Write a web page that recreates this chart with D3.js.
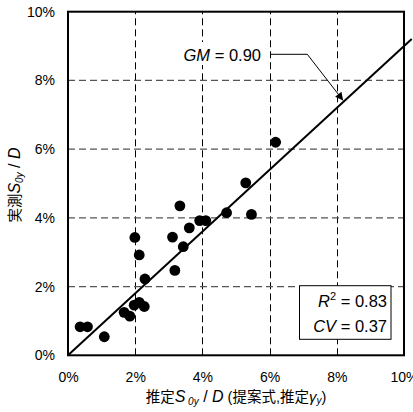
<!DOCTYPE html>
<html>
<head>
<meta charset="utf-8">
<script src="https://cdn.jsdelivr.net/npm/d3@7"></script>
<style>
  html, body { margin: 0; padding: 0; background: #fff; }
  svg { display: block; font-family: "Liberation Sans", Arial, "Noto Sans CJK JP", sans-serif; }
</style>
</head>
<body>
<svg id="chart" width="413" height="412"></svg>
<script>
// Estimated vs measured S0y / D (as fractions of D)
const estimated = [0.0036, 0.0058, 0.0108, 0.0167, 0.0184, 0.0197, 0.0212, 0.0227,
                   0.0199, 0.0212, 0.0229, 0.0311, 0.0318, 0.0333, 0.0343, 0.0361,
                   0.0392, 0.0410, 0.0472, 0.0529, 0.0546, 0.0618];
const measured  = [0.0083, 0.0083, 0.0054, 0.0125, 0.0114, 0.0146, 0.0154, 0.0142,
                   0.0343, 0.0292, 0.0222, 0.0344, 0.0247, 0.0435, 0.0316, 0.0371,
                   0.0392, 0.0392, 0.0415, 0.0502, 0.0410, 0.0620];
const axisTicks = [0, 0.02, 0.04, 0.06, 0.08, 0.10];
const gridTicks = [0.02, 0.04, 0.06, 0.08];
const gmValue = 0.90;            // slope of the fitted line y = GM * x
const fitRange = [0, 0.1023];    // x extent of the fitted line
const r2Value = 0.83;
const cvValue = 0.37;

const svg = d3.select("#chart");
const x = d3.scaleLinear().domain([0, 0.10]).range([68, 404]);
const y = d3.scaleLinear().domain([0, 0.10]).range([355.3, 11.7]);
const pct = d3.format(".0%");

// dashed grid
const grid = svg.append("g").attr("stroke", "#000").attr("stroke-width", 1)
  .attr("stroke-dasharray", "7,4");
grid.selectAll("line.v").data(gridTicks).join("line").attr("class", "v")
  .attr("x1", d => Math.round(x(d)) + 0.5).attr("x2", d => Math.round(x(d)) + 0.5)
  .attr("y1", y(0)).attr("y2", y(0.10));
grid.selectAll("line.h").data(gridTicks).join("line").attr("class", "h")
  .attr("x1", x(0)).attr("x2", x(0.10))
  .attr("y1", d => y(d)).attr("y2", d => y(d))
  .attr("stroke", "#555").attr("stroke-width", 1.4);

// axes (labels only; frame drawn separately)
const xAxis = svg.append("g").attr("transform", `translate(0,${y(0)})`)
  .call(d3.axisBottom(x).tickValues(axisTicks).tickFormat(pct).tickSize(0).tickPadding(17));
const yAxis = svg.append("g").attr("transform", `translate(${x(0)},0)`)
  .call(d3.axisLeft(y).tickValues(axisTicks).tickFormat(pct).tickSize(0).tickPadding(13));
[xAxis, yAxis].forEach(a => {
  a.select(".domain").remove();
  a.selectAll("text").attr("font-size", 14).attr("fill", "#000")
    .attr("font-family", "Liberation Sans, Arial, sans-serif");
});

// fitted line
svg.append("line")
  .attr("x1", x(fitRange[0])).attr("y1", y(gmValue * fitRange[0]))
  .attr("x2", x(fitRange[1])).attr("y2", y(gmValue * fitRange[1]))
  .attr("stroke", "#000").attr("stroke-width", 2);

// data points
svg.append("g").selectAll("circle").data(estimated).join("circle")
  .attr("cx", d => x(d)).attr("cy", (d, i) => y(measured[i]))
  .attr("r", 5.4).attr("fill", "#000");

// frame
svg.append("rect").attr("x", x(0)).attr("y", y(0.10))
  .attr("width", x(0.10) - x(0)).attr("height", y(0) - y(0.10))
  .attr("fill", "none").attr("stroke", "#000").attr("stroke-width", 2);

// GM annotation
svg.append("rect").attr("x", 174).attr("y", 42).attr("width", 92).attr("height", 23).attr("fill", "#fff");
const gm = svg.append("text").attr("x", 261).attr("y", 61).attr("text-anchor", "end")
  .attr("font-size", 16.5);
gm.append("tspan").attr("font-style", "italic").text("GM");
gm.append("tspan").text(" = " + gmValue.toFixed(2));

const tipX = 0.0819;
const tip = [x(tipX), y(gmValue * tipX) - 1.5];
svg.append("defs").append("marker").attr("id", "arrow")
  .attr("viewBox", "0 0 10 10").attr("refX", 10).attr("refY", 5)
  .attr("markerWidth", 12).attr("markerHeight", 8).attr("markerUnits", "userSpaceOnUse")
  .attr("orient", "auto")
  .append("path").attr("d", "M0,0 L10,5 L0,10 Z").attr("fill", "#000");
svg.append("path")
  .attr("d", `M270,54.3 L307.3,54.3 L${tip[0]},${tip[1]}`)
  .attr("fill", "none").attr("stroke", "#000").attr("stroke-width", 1)
  .attr("marker-end", "url(#arrow)");

// statistics box
svg.append("rect").attr("x", 299.5).attr("y", 285.7).attr("width", 91.5).attr("height", 53.6)
  .attr("fill", "#fff").attr("stroke", "#000").attr("stroke-width", 1);
const r2 = svg.append("text").attr("x", 387).attr("y", 307).attr("text-anchor", "end").attr("font-size", 16.5);
r2.append("tspan").attr("font-style", "italic").text("R");
r2.append("tspan").attr("font-size", 11).attr("dy", -7).text("2");
r2.append("tspan").attr("dy", 7).text(" = " + r2Value.toFixed(2));
const cv = svg.append("text").attr("x", 387).attr("y", 332).attr("text-anchor", "end").attr("font-size", 16.5);
cv.append("tspan").attr("font-style", "italic").text("CV");
cv.append("tspan").text(" = " + cvValue.toFixed(2));

// x-axis title
const xt = svg.append("text").attr("x", 236).attr("y", 402).attr("text-anchor", "middle").attr("font-size", 14.5);
xt.append("tspan").text("推定");
xt.append("tspan").attr("font-style", "italic").attr("font-size", 16).text("S");
xt.append("tspan").attr("font-style", "italic").attr("font-size", 10).attr("dy", 3).text(" 0y");
xt.append("tspan").attr("dy", -3).attr("font-size", 16).text(" / ");
xt.append("tspan").attr("font-style", "italic").attr("font-size", 16).text("D");
xt.append("tspan").text(" (提案式,推定");
xt.append("tspan").attr("font-style", "italic").attr("font-size", 15).text("γ");
xt.append("tspan").attr("font-style", "italic").attr("font-size", 10).attr("dy", 2).text("y");
xt.append("tspan").attr("dy", -2).text(")");

// y-axis title
const yt = svg.append("text").attr("transform", "translate(20,185) rotate(-90)")
  .attr("text-anchor", "middle").attr("font-size", 14.5);
yt.append("tspan").text("実測");
yt.append("tspan").attr("font-style", "italic").attr("font-size", 16).text("S");
yt.append("tspan").attr("font-style", "italic").attr("font-size", 10).attr("dy", 3).text("0y");
yt.append("tspan").attr("dy", -3).attr("font-size", 16).text(" / ");
yt.append("tspan").attr("font-style", "italic").attr("font-size", 16).text("D");
</script>
</body>
</html>
